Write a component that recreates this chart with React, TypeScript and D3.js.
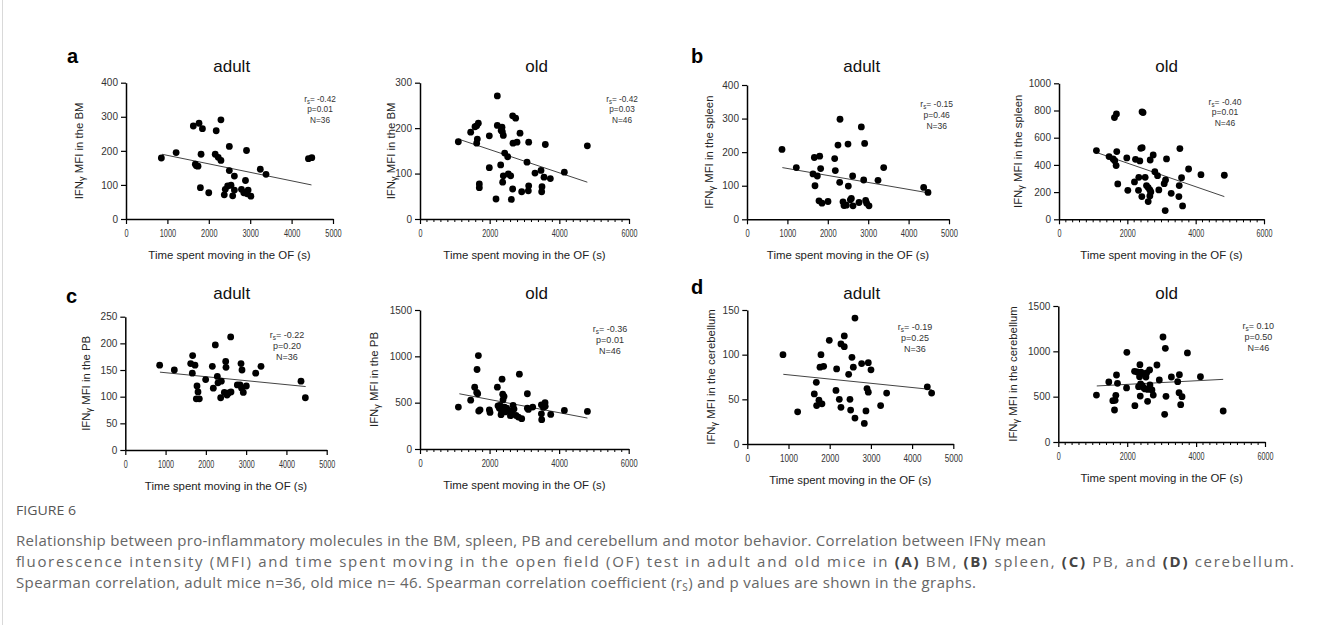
import React, { useEffect, useRef } from "react";
import * as d3 from "d3";

const W = 1331;
const H = 625;
const FONT = "'Liberation Sans', Arial, sans-serif";
const CAPTION_FONT = "'Open Sans', 'Noto Sans', sans-serif";

// ---- values ----
// (a) BM
const bmAdultTime = [854, 1211, 1626, 1764, 1846, 2293, 2179, 2496, 2911, 1813, 1675, 1700, 1740, 2155, 2228, 2293, 2496, 2618, 3244, 3382, 1797, 1999, 2398, 2455, 2537, 2618, 2374, 2577, 2886, 2789, 2846, 2927, 3016, 2950, 4407, 4488];
const bmAdultMfi = [179, 195, 273, 281, 265, 291, 259, 213, 201, 190, 161, 156, 155, 190, 181, 172, 142, 126, 146, 131, 92, 77, 87, 97, 99, 85, 71, 68, 113, 87, 77, 74, 67, 85, 177, 180];
const bmOldTime = [1100, 1455, 1579, 1627, 1675, 1646, 1627, 1990, 1990, 1703, 1703, 2220, 2220, 2354, 2364, 2392, 2431, 2517, 2316, 2373, 2392, 2536, 2603, 2660, 2746, 2670, 2785, 2871, 3120, 3072, 2182, 2622, 2660, 2919, 3110, 3120, 3301, 3474, 3560, 3742, 3502, 3493, 3598, 4144, 4804, 2330];
const bmOldMfi = [170, 191, 203, 205, 211, 176, 167, 183, 113, 77, 69, 271, 206, 202, 192, 184, 145, 137, 119, 81, 95, 99, 95, 227, 222, 167, 169, 189, 169, 125, 44, 43, 66, 60, 62, 73, 101, 107, 92, 89, 71, 60, 164, 103, 161, 195];
const bmAdultFit = [[870, 190], [4480, 100]];
const bmOldFit = [[1100, 176], [4804, 81]];

// (b) spleen
const spleenAdultTime = [866, 1221, 1667, 1799, 1823, 1634, 1741, 1683, 1782, 1856, 2005, 2170, 2186, 2252, 2302, 2294, 2500, 2508, 2830, 2912, 2888, 2615, 2376, 2401, 2459, 2558, 2583, 2624, 2772, 2937, 2962, 3020, 3243, 3383, 4373, 4480];
const spleenAdultMfi = [208, 154, 184, 188, 151, 135, 129, 100, 55, 48, 53, 181, 145, 221, 298, 110, 224, 99, 275, 226, 117, 129, 52, 41, 42, 58, 62, 40, 50, 56, 48, 40, 116, 154, 95, 80];
const spleenOldTime = [1095, 1466, 1584, 1632, 1672, 1691, 1623, 1681, 1720, 1984, 2014, 2239, 2366, 2395, 2434, 2430, 2460, 2209, 2336, 2326, 2424, 2522, 2561, 2610, 2659, 2688, 2659, 2610, 2669, 2757, 2805, 2884, 2922, 3079, 3118, 3147, 3108, 3284, 3519, 3509, 3538, 3587, 3617, 3793, 4155, 4839];
const spleenOldMfi = [505, 461, 444, 431, 395, 498, 748, 775, 260, 451, 213, 441, 429, 522, 527, 790, 785, 275, 309, 213, 167, 309, 248, 233, 216, 201, 172, 130, 436, 473, 350, 321, 216, 262, 289, 444, 64, 191, 248, 167, 520, 306, 98, 370, 328, 324];
const spleenAdultFit = [[875, 154], [4480, 79]];
const spleenOldFit = [[1114, 490], [4839, 167]];

// (c) PB
const pbAdultTime = [853, 1217, 1623, 1730, 1664, 1672, 1780, 1805, 1763, 1838, 1995, 2161, 2185, 2235, 2285, 2301, 2384, 2368, 2492, 2500, 2616, 2459, 2525, 2566, 2624, 2873, 2897, 2781, 2848, 2889, 2930, 3005, 3237, 3369, 4362, 4470];
const pbAdultMfi = [159, 150, 162, 159, 144, 177, 120, 109, 96, 96, 132, 157, 116, 197, 138, 126, 129, 98, 166, 155, 212, 108, 103, 107, 109, 162, 150, 122, 122, 116, 108, 120, 144, 157, 129, 98];
const pbOldTime = [1103, 1457, 1572, 1630, 1659, 1640, 1678, 1688, 1726, 1994, 2013, 2224, 2359, 2378, 2416, 2387, 2243, 2282, 2349, 2330, 2426, 2493, 2541, 2637, 2675, 2703, 2761, 2857, 2828, 2924, 3087, 3116, 3087, 3241, 3490, 3595, 3547, 3490, 3499, 3758, 4151, 4813, 2450, 2600, 2300, 3600];
const pbOldMfi = [452, 527, 667, 610, 596, 858, 1008, 409, 423, 423, 395, 667, 753, 592, 567, 531, 466, 441, 405, 370, 452, 441, 416, 388, 470, 431, 362, 808, 344, 327, 441, 427, 596, 452, 477, 499, 449, 380, 316, 373, 416, 405, 400, 360, 470, 460];
const pbAdultFit = [[860, 146], [4478, 119]];
const pbOldFit = [[1131, 596], [4813, 334]];

// (d) cerebellum
const cbAdultTime = [866, 1222, 1675, 1626, 1739, 1683, 1812, 1764, 1853, 1788, 1990, 2152, 2168, 2233, 2273, 2273, 2354, 2354, 2460, 2492, 2508, 2540, 2573, 2613, 2613, 2775, 2840, 2880, 2905, 2937, 2937, 3002, 3236, 3382, 4369, 4474];
const cbAdultMfi = [100, 36, 69, 56, 49, 43, 45, 86, 87, 100, 116, 60, 84, 50, 41, 112, 109, 121, 78, 50, 38, 97, 86, 141, 29, 90, 23, 37, 62, 58, 91, 83, 43, 57, 64, 57];
const cbOldTime = [1107, 1466, 1650, 1670, 1583, 1631, 1689, 1718, 1990, 1981, 2214, 2223, 2291, 2369, 2417, 2359, 2544, 2563, 2650, 2330, 2388, 2437, 2379, 2592, 2660, 2718, 2757, 2515, 2864, 2932, 3039, 3107, 3126, 3087, 3282, 3466, 3515, 3505, 3592, 3553, 3748, 4126, 4786, 2470, 2600, 2400];
const cbOldMfi = [518, 662, 460, 515, 456, 353, 739, 647, 989, 596, 779, 401, 772, 853, 757, 721, 717, 761, 794, 610, 640, 621, 507, 449, 629, 574, 518, 585, 849, 684, 1158, 1033, 504, 305, 717, 665, 743, 544, 500, 412, 982, 721, 342, 600, 580, 770];
const cbAdultFit = [[874, 78], [4474, 61]];
const cbOldFit = [[1117, 618], [4786, 691]];

// r_s, p, N per panel (a adult, a old, b adult, b old, c adult, c old, d adult, d old)
const rsValues = ["-0.42", "-0.42", "-0.15", "-0.40", "-0.22", "-0.36", "-0.19", "0.10"];
const pValues = ["0.01", "0.03", "0.46", "0.01", "0.20", "0.01", "0.25", "0.50"];
const nValues = ["36", "46", "36", "46", "36", "46", "36", "46"];

const X_LABEL = "Time spent moving in the OF (s)";

type Panel = {
  letter?: string; letterX?: number; letterY?: number;
  title: string; titleX: number; titleY: number;
  tissue: string;
  xs: number[]; ys: number[]; fit: number[][];
  left: number; right: number; top: number; bottom: number;
  xMax: number; xStep: number; minor: boolean;
  yMax: number; yStep: number;
  yLabelDx: number;
  annoX: number; annoY: number; annoSx: number;
  tickW: number;
};

const panels: Panel[] = [
  { letter: "a", letterX: 67, letterY: 63, title: "adult", titleX: 231.7, titleY: 71.5, tissue: "BM",
    xs: bmAdultTime, ys: bmAdultMfi, fit: bmAdultFit,
    left: 126, right: 333, top: 82.7, bottom: 219, xMax: 5000, xStep: 1000, minor: false, yMax: 400, yStep: 100,
    yLabelDx: -43, annoX: 320, annoY: 101.5, annoSx: 0.92, tickW: 4.1 },
  { title: "old", titleX: 536.7, titleY: 71.5, tissue: "BM",
    xs: bmOldTime, ys: bmOldMfi, fit: bmOldFit,
    left: 420, right: 629, top: 82.7, bottom: 219, xMax: 6000, xStep: 2000, minor: true, yMax: 300, yStep: 100,
    yLabelDx: -25, annoX: 622, annoY: 101.5, annoSx: 0.92, tickW: 4.0 },
  { letter: "b", letterX: 691, letterY: 63, title: "adult", titleX: 861.7, titleY: 71.5, tissue: "spleen",
    xs: spleenAdultTime, ys: spleenAdultMfi, fit: spleenAdultFit,
    left: 747, right: 949, top: 85, bottom: 219.3, xMax: 5000, xStep: 1000, minor: false, yMax: 400, yStep: 100,
    yLabelDx: -34, annoX: 936.7, annoY: 107, annoSx: 0.95, tickW: 4.2 },
  { title: "old", titleX: 1166.7, titleY: 71.5, tissue: "spleen",
    xs: spleenOldTime, ys: spleenOldMfi, fit: spleenOldFit,
    left: 1059, right: 1264, top: 83.3, bottom: 219.3, xMax: 6000, xStep: 2000, minor: true, yMax: 1000, yStep: 200,
    yLabelDx: -37, annoX: 1225, annoY: 104.5, annoSx: 0.95, tickW: 4.0 },
  { letter: "c", letterX: 66, letterY: 303, title: "adult", titleX: 231.7, titleY: 299, tissue: "PB",
    xs: pbAdultTime, ys: pbAdultMfi, fit: pbAdultFit,
    left: 125.3, right: 326.7, top: 316.7, bottom: 450, xMax: 5000, xStep: 1000, minor: false, yMax: 250, yStep: 50,
    yLabelDx: -35, annoX: 287, annoY: 338, annoSx: 1, tickW: 4.0 },
  { title: "old", titleX: 536.7, titleY: 299, tissue: "PB",
    xs: pbOldTime, ys: pbOldMfi, fit: pbOldFit,
    left: 420, right: 628.7, top: 310, bottom: 449, xMax: 6000, xStep: 2000, minor: true, yMax: 1500, yStep: 500,
    yLabelDx: -42, annoX: 610, annoY: 331.5, annoSx: 1, tickW: 4.2 },
  { letter: "d", letterX: 691, letterY: 294, title: "adult", titleX: 861.7, titleY: 299, tissue: "cerebellum",
    xs: cbAdultTime, ys: cbAdultMfi, fit: cbAdultFit,
    left: 747.3, right: 953.3, top: 310, bottom: 444, xMax: 5000, xStep: 1000, minor: false, yMax: 150, yStep: 50,
    yLabelDx: -32, annoX: 915, annoY: 330, annoSx: 1, tickW: 4.5 },
  { title: "old", titleX: 1166.7, titleY: 299, tissue: "cerebellum",
    xs: cbOldTime, ys: cbOldMfi, fit: cbOldFit,
    left: 1058.3, right: 1265, top: 306, bottom: 442, xMax: 6000, xStep: 2000, minor: true, yMax: 1500, yStep: 500,
    yLabelDx: -41, annoX: 1258.3, annoY: 328.5, annoSx: 1, tickW: 4.0 },
];

function drawPanel(root: any, p: Panel, i: number) {
  const g = root.append("g");
  const x = d3.scaleLinear().domain([0, p.xMax]).range([p.left, p.right]);
  const y = d3.scaleLinear().domain([0, p.yMax]).range([p.bottom, p.top]);

  // x axis
  const xAxis = d3.axisBottom(x)
    .tickValues(d3.range(0, p.xMax + 1, p.xStep))
    .tickSizeInner(5).tickSizeOuter(0).tickPadding(6)
    .tickFormat((d: any) => String(d));
  const gx = g.append("g").attr("transform", `translate(0,${p.bottom})`).call(xAxis);
  gx.attr("font-family", FONT).attr("font-size", 10);
  gx.select(".domain").attr("stroke", "#000").attr("stroke-width", 1.5);
  gx.selectAll(".tick line").attr("stroke", "#000").attr("stroke-width", 1.2);
  gx.selectAll(".tick text")
    .attr("fill", "#333")
    .attr("textLength", (d: any) => String(d).length * p.tickW)
    .attr("lengthAdjust", "spacingAndGlyphs");

  if (p.minor) {
    const minors = d3.range(0, p.xMax + 1, 200).filter((v) => v % p.xStep !== 0);
    g.append("g").selectAll("line").data(minors).join("line")
      .attr("x1", (d: number) => x(d)).attr("x2", (d: number) => x(d))
      .attr("y1", p.bottom).attr("y2", p.bottom + 3)
      .attr("stroke", "#000").attr("stroke-width", 1);
  }

  // y axis
  const yAxis = d3.axisLeft(y)
    .tickValues(d3.range(0, p.yMax + 1, p.yStep))
    .tickSizeInner(5).tickSizeOuter(0).tickPadding(3)
    .tickFormat((d: any) => String(d));
  const gy = g.append("g").attr("transform", `translate(${p.left},0)`).call(yAxis);
  gy.attr("font-family", FONT).attr("font-size", 10);
  gy.select(".domain").attr("stroke", "#000").attr("stroke-width", 1.5);
  gy.selectAll(".tick line").attr("stroke", "#000").attr("stroke-width", 1.2);
  gy.selectAll(".tick text").attr("fill", "#333");

  // regression line
  const line = d3.line<number[]>().x((d) => x(d[0])).y((d) => y(d[1]));
  g.append("path").datum(p.fit).attr("d", line).attr("fill", "none").attr("stroke", "#444").attr("stroke-width", 1);

  // points
  const pts = p.xs.map((v, k) => [v, p.ys[k]]);
  g.append("g").selectAll("circle").data(pts).join("circle")
    .attr("cx", (d: number[]) => x(d[0])).attr("cy", (d: number[]) => y(d[1]))
    .attr("r", 3.4).attr("fill", "#000");

  // title
  g.append("text").attr("x", p.titleX).attr("y", p.titleY).attr("text-anchor", "middle")
    .attr("font-family", FONT).attr("font-size", 17).attr("fill", "#111").text(p.title);

  // panel letter
  if (p.letter) {
    g.append("text").attr("x", p.letterX).attr("y", p.letterY)
      .attr("font-family", FONT).attr("font-size", 20).attr("font-weight", "bold").attr("fill", "#000").text(p.letter);
  }

  // x label
  g.append("text").attr("x", (p.left + p.right) / 2).attr("y", p.bottom + 40).attr("text-anchor", "middle")
    .attr("font-family", FONT).attr("font-size", 11.4).attr("fill", "#222").text(X_LABEL);

  // y label
  const yl = g.append("text")
    .attr("transform", `translate(${p.left + p.yLabelDx},${(p.top + p.bottom) / 2}) rotate(-90)`)
    .attr("text-anchor", "middle").attr("font-family", FONT).attr("font-size", 11.4).attr("fill", "#222");
  yl.append("tspan").text("IFN");
  yl.append("tspan").attr("font-size", 9).attr("dy", 1.5).text("γ");
  yl.append("tspan").attr("dy", -1.5).text(` MFI in the ${p.tissue}`);

  // statistics annotation
  const ag = g.append("g").attr("transform", `translate(${p.annoX},${p.annoY}) scale(${p.annoSx},1)`)
    .attr("font-family", FONT).attr("font-size", 9).attr("fill", "#333").attr("text-anchor", "middle");
  const r = ag.append("text").attr("x", 0).attr("y", 0);
  r.append("tspan").text("r");
  r.append("tspan").attr("font-size", 6.5).attr("dy", 2).text("s");
  r.append("tspan").attr("dy", -2).text(`= ${rsValues[i]}`);
  ag.append("text").attr("x", 0).attr("y", 11).text(`p=${pValues[i]}`);
  ag.append("text").attr("x", 0).attr("y", 22).text(`N=${nValues[i]}`);
}

function drawCaption(root: any) {
  const c = root.append("g").attr("font-family", CAPTION_FONT).attr("fill", "#666");
  c.append("text").attr("x", 16).attr("y", 515).attr("font-size", 13).attr("fill", "#555")
    .attr("textLength", 60).attr("lengthAdjust", "spacingAndGlyphs").text("FIGURE 6");

  c.append("text").attr("x", 16).attr("y", 546).attr("font-size", 15)
    .attr("textLength", 1030).attr("lengthAdjust", "spacing")
    .text("Relationship between pro-inflammatory molecules in the BM, spleen, PB and cerebellum and motor behavior. Correlation between IFNγ mean");

  const l2 = c.append("text").attr("x", 16).attr("y", 567).attr("font-size", 15)
    .attr("textLength", 1278).attr("lengthAdjust", "spacing");
  const parts: [string, boolean][] = [
    ["fluorescence intensity (MFI) and time spent moving in the open field (OF) test in adult and old mice in ", false],
    ["(A)", true], [" BM, ", false], ["(B)", true], [" spleen, ", false],
    ["(C)", true], [" PB, and ", false], ["(D)", true], [" cerebellum.", false],
  ];
  parts.forEach(([t, b]) => {
    const ts = l2.append("tspan").text(t);
    if (b) ts.attr("font-weight", "bold").attr("fill", "#444");
  });

  const l3 = c.append("text").attr("x", 16).attr("y", 588).attr("font-size", 15)
    .attr("textLength", 960).attr("lengthAdjust", "spacing");
  l3.append("tspan").text("Spearman correlation, adult mice n=36, old mice n= 46. Spearman correlation coefficient (r");
  l3.append("tspan").attr("font-size", 10).attr("dy", 3).text("S");
  l3.append("tspan").attr("dy", -3).text(") and p values are shown in the graphs.");
}

export default function App() {
  const ref = useRef<SVGSVGElement>(null);

  useEffect(() => {
    const svg = d3.select(ref.current);
    svg.selectAll("*").remove();
    svg.append("rect").attr("width", W).attr("height", H).attr("fill", "#fff");
    svg.append("line").attr("x1", 2.5).attr("x2", 2.5).attr("y1", 0).attr("y2", H)
      .attr("stroke", "#d9d9d9").attr("stroke-width", 1);
    panels.forEach((p, i) => drawPanel(svg, p, i));
    drawCaption(svg);
  }, []);

  return (
    <svg ref={ref} width={W} height={H} style={{ position: "absolute", left: 0, top: 0 }} />
  );
}
